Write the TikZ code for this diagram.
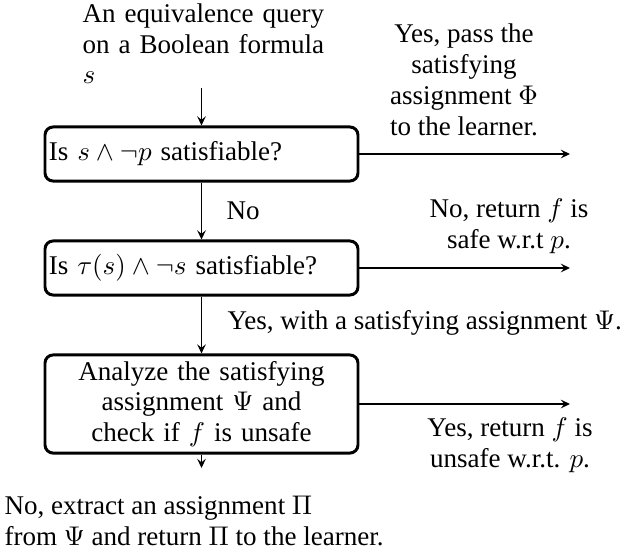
\documentclass[tikz,border=0pt]{standalone}
\usepackage{fontspec}
\setmainfont{Liberation Serif}
\usetikzlibrary{arrows.meta}
\begin{document}
\begin{tikzpicture}[x=0.37pt,y=-0.37pt,
  every node/.style={font=\fontsize{10}{11.4}\selectfont},
  box/.style={draw,rounded corners=3pt,line width=1.1pt,text width=113pt,
    inner xsep=1.4pt,inner ysep=0pt},
  arr/.style={-{Stealth[length=3.4pt,width=3.2pt,inset=1.3pt]},line width=0.45pt},
  lbl/.style={align=center,inner sep=0pt}]
\useasboundingbox (0,0) rectangle (628,550);

% incoming query
\node[text width=89.5pt,inner sep=0pt,anchor=north west] (query) at (82,3)
  {An equivalence query on a Boolean formula $s$};

% decision boxes
\node[box,minimum height=20pt] (box1) at (201.5,154) {Is $s\wedge\neg p$ satisfiable?};
\node[box,minimum height=20pt] (box2) at (201.5,268) {Is $\tau(s)\wedge\neg s$ satisfiable?};
\node[box,align=center,minimum height=36.3pt] (box3) at (201.5,404)
  {Analyze the satisfying\\ assignment $\Psi$ and\\ check if $f$ is unsafe};

% outcome texts
\node[lbl] (yes1) at (464,80) {Yes, pass the\\ satisfying\\ assignment $\Phi$\\ to the learner.};
\node[lbl,anchor=west] (no1) at (226,211) {No};
\node[lbl] (no2) at (509,226) {No, return $f$ is\\ safe w.r.t $p$.};
\node[lbl,anchor=west] (yes2) at (227,323) {Yes, with a satisfying assignment $\Psi$.};
\node[lbl] (yes3) at (510,445) {Yes, return $f$ is\\ unsafe w.r.t. $p$.};
\node[lbl,align=left,anchor=west] (no3) at (4,521)
  {No, extract an assignment $\Pi$\\ from $\Psi$ and return $\Pi$ to the learner.};

% loose ends of the exits
\coordinate (e1) at (570,154);
\coordinate (e2) at (570,268);
\coordinate (e3) at (570,404);
\coordinate (e4) at (201.5,468);
\coordinate (q0) at (201.5,88);

% connectors
\draw[arr] (q0) -- (box1.north);
\draw[arr] (box1.east) -- (e1);
\draw[arr] (box1.south) -- (box2.north);
\draw[arr] (box2.east) -- (e2);
\draw[arr] (box2.south) -- (box3.north);
\draw[arr] (box3.east) -- (e3);
\draw[arr] (box3.south) -- (e4);
\end{tikzpicture}
\end{document}
